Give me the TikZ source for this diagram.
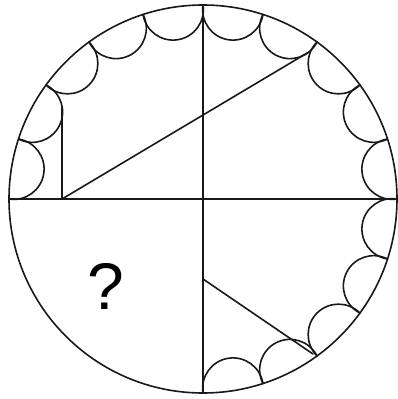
\documentclass[tikz,border=0pt]{standalone}
\usepackage{fontspec}
\setmainfont{Liberation Sans}
\begin{document}
\begin{tikzpicture}[x=1pt,y=1pt,
  figline/.style={draw=black!90, line width=1.6pt, line join=round, line cap=round},
  qmark/.style={inner sep=0pt, font=\fontsize{66}{66}\selectfont}]
\useasboundingbox (-203,-200) rectangle (194,199);
\def\R{194}
\def\r{30.35}
\coordinate (O) at (0,0);
\coordinate (W) at (-\R,0);
\coordinate (E) at (\R,0);
\coordinate (N) at (0,\R);
\coordinate (S) at (0,-\R);
% outer circle and diameters
\draw[figline] (O) circle[radius=\R];
\draw[figline] (W) -- (E);
\draw[figline] (N) -- (S);
% scallops
\foreach \a in {90,108,126,144,162,0,18,36,54,72,-90,-72,-54,-36,-18}{
  \draw[figline] (\a:\R) arc[start angle=\a-81, end angle=\a-261, radius=\r];
}
% upper-left triangle
\coordinate (A) at (-141,0);
\coordinate (B) at (-141,91);
\coordinate (D) at (105,146.5);
\draw[figline] (B) -- (A) -- (D);
% lower-right segment
\coordinate (F) at (0,-80);
\coordinate (G) at (110,-155);
\draw[figline] (F) -- (G);
% question mark
\node[qmark] (q) at (-97,-87) {?};
\end{tikzpicture}
\end{document}
